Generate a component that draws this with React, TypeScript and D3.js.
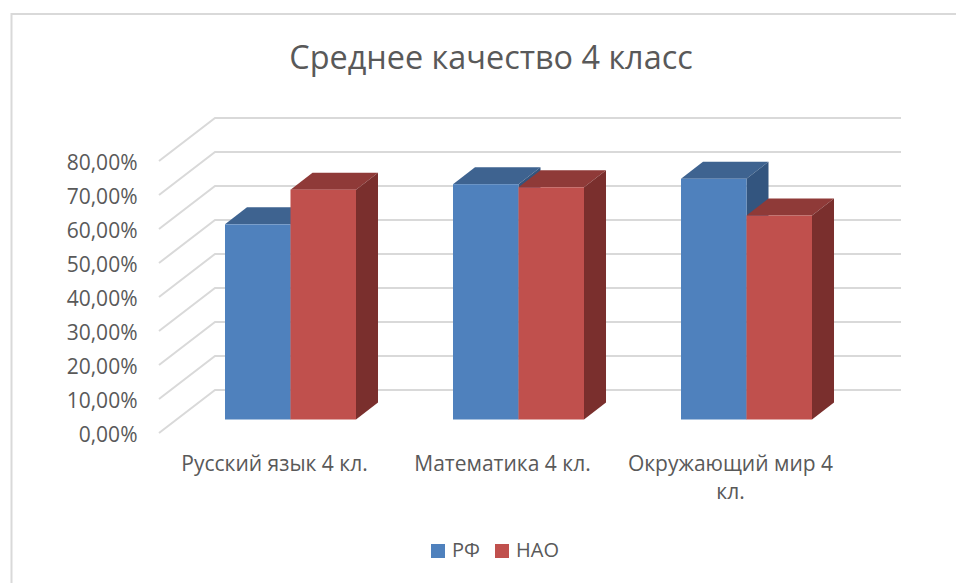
import React from 'react';
import * as d3 from 'd3';

const categories = [['Русский язык 4 кл.'], ['Математика 4 кл.'], ['Окружающий мир 4', 'кл.']];
const seriesNames = ['РФ', 'НАО'];
const rfValues = [0.574, 0.692, 0.708];
const naoValues = [0.676, 0.683, 0.6];
const tickValues = [0, 0.1, 0.2, 0.3, 0.4, 0.5, 0.6, 0.7, 0.8];

const colors = [
  { front: '#4f81bd', top: '#3e6390', side: '#33557f' },
  { front: '#c0504d', top: '#8f3a38', side: '#7a2f2d' },
];

const FONT = '"Open Sans", sans-serif';
const TEXT = '#595959';
const GRID = '#d9d9d9';

const locale = d3.formatLocale({ decimal: ',', thousands: ' ', grouping: [3], currency: ['', ''] });
const fmt = locale.format('.2%');

// back wall of the 3d box
const y = d3.scaleLinear().domain([0, 0.8]).range([390, 118]);
const wallLeft = 215;
const wallRight = 901;
const wallDx = -56;
const wallDy = 43;

// bars sit inside the floor, nearer to the viewer than the wall
const barBase = 419.5;
const barScale = d3.scaleLinear().domain([0, 0.8]).range([barBase, barBase - 272]);
const depthX = 22;
const depthY = -17;

const x0 = d3.scaleBand<number>().domain(d3.range(categories.length)).range([176.5, 860.5]).paddingInner(0.4254).paddingOuter(0.2127);
const x1 = d3.scaleBand<number>().domain(d3.range(seriesNames.length)).range([0, x0.bandwidth()]);

const Bar = ({ cat, s, value }: { cat: number; s: number; value: number }) => {
  const left = (x0(cat) as number) + (x1(s) as number);
  const right = left + x1.bandwidth();
  const top = barScale(value);
  const c = colors[s];
  const path = d3.line();
  const poly = (pts: [number, number][]) => path(pts) + 'Z';
  return (
    <g>
      <path d={poly([[left, top], [right, top], [right + depthX, top + depthY], [left + depthX, top + depthY]])} fill={c.top} />
      <path d={poly([[right, top], [right + depthX, top + depthY], [right + depthX, barBase + depthY], [right, barBase]])} fill={c.side} />
      <rect x={left} y={top} width={right - left} height={barBase - top} fill={c.front} />
    </g>
  );
};

export default function App() {
  const seriesValues = [rfValues, naoValues];
  return (
    <svg width={956} height={583} style={{ position: 'absolute', left: 0, top: 0, background: '#fff' }} fontFamily={FONT}>
      <path d="M11.5,583V14H956" fill="none" stroke={GRID} strokeWidth={2} />

      <text x={491} y={69} textAnchor="middle" fontSize={32.4} fill={TEXT}>Среднее качество 4 класс</text>

      {tickValues.map((t) => (
        <g key={t}>
          <path
            d={`M${wallLeft + wallDx},${y(t) + wallDy}L${wallLeft},${y(t)}H${wallRight}`}
            fill="none"
            stroke={GRID}
            strokeWidth={2}
          />
          <text x={137.5} y={y(t) + wallDy + 8.5} textAnchor="end" fontSize={21} fill={TEXT}>{fmt(t)}</text>
        </g>
      ))}

      {categories.map((_, i) =>
        seriesNames.map((_, s) => <Bar key={`${i}-${s}`} cat={i} s={s} value={seriesValues[s][i]} />)
      )}

      {categories.map((lines, i) => {
        const cx = (x0(i) as number) + x0.bandwidth() / 2 - 16;
        return lines.map((line, k) => (
          <text key={line} x={cx} y={470.5 + k * 28.5} textAnchor="middle" fontSize={21} fill={TEXT}>{line}</text>
        ));
      })}

      {seriesNames.map((name, s) => {
        const lx = s === 0 ? 431 : 495;
        return (
          <g key={name}>
            <rect x={lx} y={544} width={14} height={14} fill={colors[s].front} />
            <text x={lx + 21} y={557} fontSize={20} fill={TEXT}>{name}</text>
          </g>
        );
      })}
    </svg>
  );
}
